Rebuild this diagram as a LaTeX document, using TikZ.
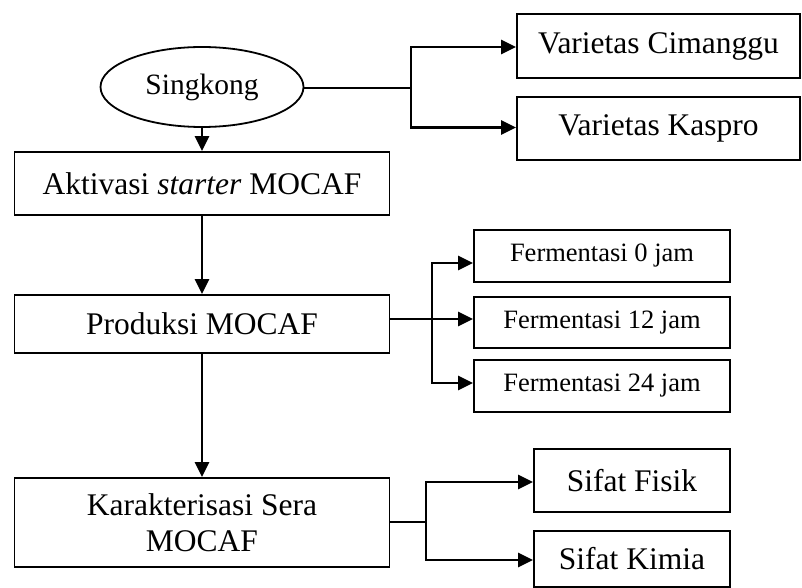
\documentclass[tikz,border=0pt]{standalone}
\usepackage{fontspec}
\setmainfont{Liberation Serif}
\usetikzlibrary{arrows.meta,shapes.geometric}
\begin{document}
\begin{tikzpicture}[x=1pt,y=-1pt,
  box/.style={draw,line width=1.8pt,rectangle,inner sep=0pt,align=center,font=\fontsize{31.5}{36}\selectfont},
  sbox/.style={box,font=\fontsize{26.5}{30}\selectfont},
  arr/.style={line width=2.4pt,-{Triangle[length=15pt,width=14pt]}},
  ln/.style={line width=2.4pt}]
\useasboundingbox[fill=white] (0,0) rectangle (802,588);
\node[draw,line width=1.8pt,ellipse,minimum width=203pt,minimum height=80pt,inner sep=0pt,font=\fontsize{29.5}{32}\selectfont] (ell) at (202,87) {Singkong};
\node[box,minimum width=375pt,minimum height=63pt] (akt) at (202,183.5) {Aktivasi \textit{starter} MOCAF};
\node[box,minimum width=375pt,minimum height=58pt] (prod) at (202,324) {Produksi MOCAF};
\node[box,minimum width=375pt,minimum height=89pt] (kar) at (202,522.5) {Karakterisasi Sera\\MOCAF};
\node[box,minimum width=283pt,minimum height=64pt] (vc) at (658.5,46) {Varietas Cimanggu};
\node[box,minimum width=283pt,minimum height=63pt] (vk) at (658.5,128.5) {Varietas Kaspro};
\node[sbox,minimum width=256pt,minimum height=52pt] (f0) at (602,256) {Fermentasi 0 jam};
\node[sbox,minimum width=256pt,minimum height=51pt] (f12) at (602,322.5) {Fermentasi 12 jam};
\node[sbox,minimum width=256pt,minimum height=52pt] (f24) at (602,386) {Fermentasi 24 jam};
\node[box,minimum width=196pt,minimum height=63pt] (sf) at (632,480.5) {Sifat Fisik};
\node[box,minimum width=196pt,minimum height=56pt] (sk) at (632,559) {Sifat Kimia};
% junctions
\coordinate (j1) at (411,88);
\coordinate (j2) at (432,319);
\coordinate (j3) at (426,522);
\draw[arr] (ell.south) -- (akt.north);
\draw[arr] (akt.south) -- (prod.north);
\draw[arr] (prod.south) -- (kar.north);
\draw[ln] (ell.east |- j1) -- (j1);
\draw[arr] (j1) |- ([yshift=-1pt]vc.west);
\draw[arr] (j1) |- ([yshift=1pt]vk.west);
\draw[ln] (prod.east |- j2) -- (j2);
\draw[arr] (j2) |- ([yshift=-7pt]f0.west);
\draw[arr] (j2) -- (f12.west |- j2);
\draw[arr] (j2) |- ([yshift=3pt]f24.west);
\draw[ln] (kar.east |- j3) -- (j3);
\draw[arr] (j3) |- ([yshift=-1.5pt]sf.west);
\draw[arr] (j3) |- ([yshift=-1pt]sk.west);
\end{tikzpicture}
\end{document}
